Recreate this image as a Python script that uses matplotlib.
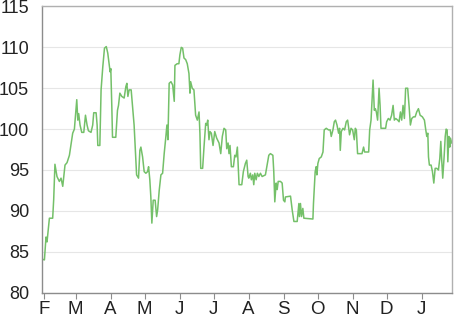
import matplotlib
matplotlib.use("Agg")
import matplotlib.pyplot as plt
import pandas as pd
import numpy as np

# day offsets relative to 1 Feb 2015, and values
days = [-2.0, 0.4, 1.8, 2.7, 4.8, 7.7, 8.6, 9.7, 11.5, 13.6, 15.1, 16.6, 18.6, 20.4,
        22.5, 25.4, 26.9, 29.0, 29.9, 30.7, 31.9, 33.4, 35.2, 36.7, 38.1, 39.3, 41.6,
        43.1, 44.0, 46.1, 47.0, 47.6, 49.4, 50.5, 52.0, 53.5, 55.1, 56.4, 57.6, 58.5,
        59.1, 60.0, 60.6, 63.5, 65.0, 65.9, 67.1, 68.8, 70.9, 72.4, 73.3, 74.2, 75.3,
        77.1, 79.7, 81.9, 83.6, 84.8, 85.7, 87.2, 88.6, 90.1, 91.6, 92.5, 93.6, 94.5,
        95.4, 96.6, 98.3, 99.6, 100.5, 101.9, 103.4, 104.9, 106.3, 107.8, 108.7, 109.6,
        110.7, 112.3, 113.8, 115.2, 115.8, 117.8, 119.3, 120.2, 121.4, 122.6, 123.8,
        125.3, 126.7, 128.2, 129.1, 129.7, 131.1, 132.6, 134.1, 135.6, 137.1, 137.9,
        138.6, 140.3, 141.5, 143.0, 143.9, 144.8, 145.9, 146.8, 148.0, 149.5, 151.0,
        152.7, 154.8, 156.3, 157.7, 159.2, 160.7, 161.6, 162.8, 163.6, 164.5, 165.7,
        167.5, 168.7, 169.8, 171.0, 172.5, 174.9, 176.3, 178.1, 179.3, 180.5, 181.1,
        182.5, 183.4, 184.6, 185.5, 186.4, 187.6, 188.7, 190.0, 191.4, 192.9, 195.8,
        197.3, 198.8, 200.2, 202.4, 203.2, 204.1, 205.3, 206.2, 207.1, 209.1, 210.6,
        211.8, 213.0, 213.5, 218.0, 219.5, 221.0, 223.9, 225.4, 225.9, 226.8, 227.7,
        228.9, 229.8, 237.8, 238.3, 239.8, 240.7, 241.3, 242.2, 243.4, 245.2, 246.7,
        247.8, 249.6, 251.6, 253.1, 254.0, 255.5, 256.7, 257.8, 259.1, 260.5, 261.4,
        262.0, 262.9, 264.4, 265.8, 267.3, 268.5, 269.3, 270.2, 271.5, 272.9, 274.4,
        275.3, 276.2, 277.3, 281.2, 282.6, 283.5, 287.1, 288.0, 289.2, 290.1, 291.0,
        292.1, 293.0, 293.9, 295.0, 296.3, 297.2, 298.0, 302.1, 303.0, 304.5, 306.0,
        307.4, 308.7, 309.8, 311.0, 312.8, 314.0, 315.2, 316.3, 317.5, 318.7, 319.8,
        321.6, 322.9, 324.0, 325.2, 326.7, 328.2, 329.6, 331.1, 332.6, 334.6, 336.4,
        337.6, 338.5, 339.4, 340.0, 340.8, 342.3, 343.5, 344.7, 345.9, 347.3, 348.8,
        350.0, 350.9, 351.7, 352.6, 353.9, 354.8, 355.6, 356.5, 357.1, 358.0, 358.8,
        359.4, 360.6]
values = [84.1, 84.0, 86.8, 86.2, 89.1, 89.1, 91.4, 95.7, 94.2, 93.6, 94.0, 93.0, 95.6, 95.9,
          96.8, 99.5, 100.0, 103.6, 101.1, 101.9, 100.5, 99.6, 99.6, 101.7, 100.5, 99.8, 99.6,
          100.5, 102.0, 102.0, 100.5, 98.0, 98.0, 104.8, 107.6, 109.9, 110.1, 109.3, 108.0, 107.0,
          107.4, 102.7, 99.0, 99.0, 102.3, 102.9, 104.4, 104.0, 103.8, 105.2, 105.6, 104.0, 104.8,
          104.8, 100.5, 94.4, 94.0, 97.4, 97.8, 96.6, 94.8, 94.6, 94.8, 95.4, 93.8, 91.7,
          88.5, 91.3, 91.3, 89.3, 90.1, 92.5, 94.4, 94.6, 97.0, 99.1, 100.5, 98.7,
          105.6, 105.8, 105.4, 103.4, 107.8, 108.0, 108.0, 109.1, 110.0, 109.9, 108.7,
          108.5, 108.0, 106.8, 104.4, 105.8, 105.0, 104.8, 101.7, 101.1, 102.1, 99.5,
          95.2, 95.2, 97.8, 100.7, 100.5, 101.1, 98.7, 99.7, 99.5, 98.0, 99.7,
          98.9, 98.3, 97.0, 99.1, 100.1, 99.9, 97.6, 98.3, 97.0, 98.0, 95.4,
          95.4, 96.8, 96.6, 97.8, 93.2, 93.2, 94.8, 95.8, 96.2, 94.2, 94.0,
          94.6, 93.8, 94.4, 93.2, 94.6, 93.8, 94.6, 94.2, 94.6, 94.2, 94.4,
          95.6, 96.8, 97.0, 96.8, 94.8, 91.1, 93.4, 92.6, 93.6, 93.6, 93.4,
          91.3, 91.1, 91.7, 91.8, 90.1, 88.7, 88.7, 90.9, 89.3, 90.9, 89.3,
          90.3, 89.1, 89.0, 90.9, 94.8, 95.4, 94.4, 95.8, 96.4, 96.6, 97.2,
          99.9, 100.1, 99.9, 99.9, 99.1, 99.9, 100.9, 101.1, 100.5, 99.5, 100.1,
          97.4, 99.7, 100.1, 99.9, 100.9, 101.1, 100.3, 99.3, 100.1, 99.9, 98.7,
          100.1, 99.9, 97.0, 97.0, 97.8, 97.2, 97.2, 99.9, 101.1, 103.6, 106.0,
          102.3, 102.5, 102.1, 101.1, 105.0, 102.9, 100.1, 100.1, 100.9, 101.3, 101.1,
          101.7, 102.9, 101.1, 101.3, 101.1, 100.9, 102.1, 101.1, 102.9, 101.3, 105.0,
          105.0, 102.7, 100.5, 101.3, 101.5, 101.5, 102.1, 102.5, 101.7, 101.5, 101.1,
          99.9, 99.1, 99.5, 96.6, 95.6, 95.6, 94.8, 93.4, 95.2, 95.2, 95.0,
          96.4, 98.5, 96.2, 94.0, 96.8, 99.1, 100.0, 99.9, 96.0, 99.1, 97.8,
          98.9, 98.3]

base_date = pd.Timestamp("2015-02-01")
month_starts = pd.date_range("2015-02-01", "2016-01-01", freq="MS")
month_labels = ["F", "M", "A", "M", "J", "J", "A", "S", "O", "N", "D", "J"]
y_ticks = [80, 85, 90, 95, 100, 105, 110, 115]

plt.rcParams["font.family"] = ["Liberation Sans", "DejaVu Sans"]

x = base_date + pd.to_timedelta(np.array(days), unit="D")

fig = plt.figure(figsize=(4.66, 3.17), dpi=100)
ax = fig.add_axes([0.0895, 0.077, 0.88, 0.9025])
ax.plot(x, values, color="#74c069", linewidth=1.1)

ax.set_xlim(x[0], x[-1])
ax.set_ylim(80, 115)
ax.set_yticks(y_ticks)
ax.set_xticks(month_starts)
ax.set_xticklabels(month_labels)

ax.grid(axis="y", color="#e6e6e6", linewidth=0.8)
ax.set_axisbelow(True)
for side in ["left", "bottom"]:
    ax.spines[side].set_color("#8c8c8c")
for side in ["top", "right"]:
    ax.spines[side].set_color("#b0b0b0")
for sp in ax.spines.values():
    sp.set_linewidth(1.0)

ax.tick_params(axis="y", length=0, pad=9, labelsize=13, labelcolor="#222222")
ax.tick_params(axis="x", length=4, width=0.8, color="#8c8c8c", pad=2,
               labelsize=13.5, labelcolor="#222222")

fig.savefig("out.png", dpi=100)
